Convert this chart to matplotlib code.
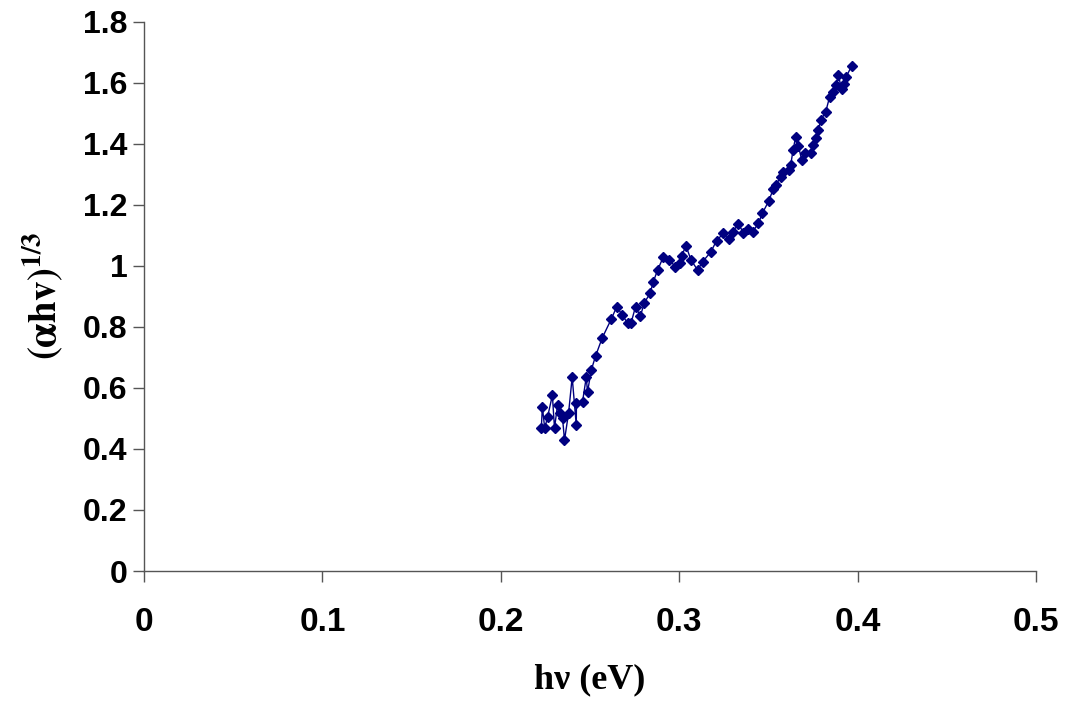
import matplotlib
matplotlib.use("Agg")
import matplotlib.pyplot as plt
from matplotlib.ticker import FuncFormatter

# photon energy hv (eV) and (alpha*hv)^(1/3)
hv = [0.2227, 0.2233, 0.2246, 0.2262, 0.2289, 0.2301, 0.2318, 0.2329, 0.2346, 0.2357,
      0.2380, 0.2400, 0.2423, 0.2424, 0.2458, 0.2479, 0.2486, 0.2507, 0.2531, 0.2568,
      0.2619, 0.2650, 0.2680, 0.2711, 0.2730, 0.2755, 0.2782, 0.2805, 0.2837, 0.2855,
      0.2879, 0.2911, 0.2945, 0.2978, 0.3004, 0.3013, 0.3038, 0.3066, 0.3103, 0.3131,
      0.3178, 0.3209, 0.3247, 0.3277, 0.3299, 0.3332, 0.3360, 0.3388, 0.3411, 0.3444,
      0.3466, 0.3502, 0.3526, 0.3541, 0.3569, 0.3582, 0.3616, 0.3625, 0.3638, 0.3653,
      0.3668, 0.3687, 0.3705, 0.3737, 0.3750, 0.3765, 0.3780, 0.3793, 0.3821, 0.3843,
      0.3862, 0.3880, 0.3892, 0.3910, 0.3923, 0.3936, 0.3966]
ahv = [0.467, 0.538, 0.468, 0.504, 0.576, 0.468, 0.544, 0.518, 0.501, 0.429,
       0.518, 0.635, 0.478, 0.550, 0.554, 0.635, 0.586, 0.658, 0.704, 0.763,
       0.825, 0.866, 0.839, 0.812, 0.812, 0.866, 0.835, 0.879, 0.910, 0.948,
       0.986, 1.029, 1.019, 0.997, 1.008, 1.032, 1.065, 1.019, 0.986, 1.013,
       1.046, 1.082, 1.106, 1.086, 1.111, 1.137, 1.108, 1.119, 1.111, 1.139,
       1.172, 1.212, 1.250, 1.264, 1.291, 1.308, 1.313, 1.330, 1.379, 1.423,
       1.392, 1.346, 1.370, 1.368, 1.395, 1.417, 1.445, 1.477, 1.504, 1.553,
       1.570, 1.592, 1.625, 1.578, 1.597, 1.619, 1.654]

xticks = [0, 0.1, 0.2, 0.3, 0.4, 0.5]
yticks = [0, 0.2, 0.4, 0.6, 0.8, 1.0, 1.2, 1.4, 1.6, 1.8]

plt.rcParams['mathtext.fontset'] = 'stix'

fig = plt.figure(figsize=(10.65, 7.06), dpi=100)
ax = fig.add_axes([0.1352, 0.1912, 0.8376, 0.7783])

ax.plot(hv, ahv, color='#000080', linewidth=1.0, marker='D', markersize=5.5,
        markerfacecolor='#000080', markeredgecolor='#000080')

ax.set_xlim(0, 0.5)
ax.set_ylim(0, 1.8)
ax.set_xticks(xticks)
ax.set_yticks(yticks)
fmt = FuncFormatter(lambda v, p: '%g' % round(v, 2))
ax.xaxis.set_major_formatter(fmt)
ax.yaxis.set_major_formatter(fmt)

for s in ['top', 'right']:
    ax.spines[s].set_visible(False)
for s in ['left', 'bottom']:
    ax.spines[s].set_color('#555555')
    ax.spines[s].set_linewidth(1.0)

ax.tick_params(axis='both', direction='out', length=8, width=1, color='#555555')
ax.tick_params(axis='y', pad=4)
ax.tick_params(axis='x', pad=18)

for lab in ax.get_yticklabels():
    lab.set_fontfamily('Liberation Sans')
    lab.set_fontweight('bold')
    lab.set_fontsize(23)
for lab in ax.get_xticklabels():
    lab.set_fontfamily('Liberation Sans')
    lab.set_fontweight('bold')
    lab.set_fontsize(24)

ax.set_xlabel('hν (eV)', fontfamily='Liberation Serif', fontweight='bold',
              fontsize=26, labelpad=18)
ax.set_ylabel(r'$\mathbf{(\alpha hv)^{1/3}}$', fontsize=28, labelpad=12)

fig.savefig('out.png', dpi=100)
